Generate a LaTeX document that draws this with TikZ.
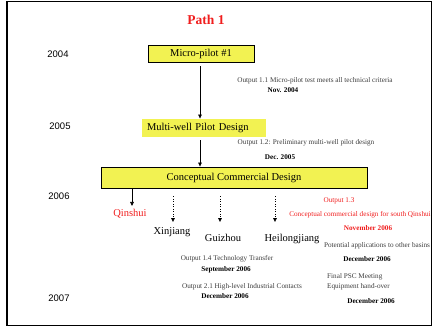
\documentclass[tikz,border=0pt]{standalone}
\usepackage{fontspec}
\setmainfont{Liberation Serif}
\newfontfamily\yearfont{Liberation Sans}
\usepackage{xcolor}
\usetikzlibrary{positioning,arrows.meta}

\definecolor{boxyellow}{RGB}{242,242,82}
\definecolor{pathred}{RGB}{240,30,30}
\definecolor{outgray}{RGB}{60,60,60}

\begin{document}
\begin{tikzpicture}[x=1pt, y=-1pt, >={Triangle[length=4pt,width=3.6pt]},
    phase/.style={fill=boxyellow, draw=black, line width=0.9pt, inner sep=0pt, font=\fontsize{10.5}{12}\selectfont},
    year/.style={font=\yearfont\fontsize{9.5}{11}\selectfont},
    basin/.style={font=\fontsize{10.5}{12}\selectfont},
    outtext/.style={font=\fontsize{7.2}{8}\selectfont, text=outgray, inner sep=0pt},
    outdate/.style={font=\bfseries\fontsize{7.2}{8}\selectfont, inner sep=0pt}]

    \useasboundingbox (0,0) rectangle (435,327);
    \draw[line width=1.6pt] (7,1.5) rectangle (431.5,325.3);
    \draw[line width=2.6pt] (7,1.5) -- (7,325.3);

    % title and years
    \node[text=pathred, font=\bfseries\fontsize{13.5}{15}\selectfont] (title) at (206,20) {Path 1};
    \node[year] (y2004) at (58,54) {2004};
    \node[year] (y2005) at (60,126) {2005};
    \node[year] (y2006) at (59,196) {2006};
    \node[year] (y2007) at (59,298) {2007};

    % phases
    \node[phase, minimum width=106pt, minimum height=17pt] (micro) at (201,53.5) {Micro-pilot \#1};
    \node[phase, draw=none, minimum height=18pt, text width=114pt, inner xsep=5pt, align=left] (multi) at (204,128) {Multi-well Pilot Design};
    \node[phase, minimum width=266pt, minimum height=21pt] (concept) at (234,177.5) {Conceptual Commercial Design};

    \draw[->, line width=0.6pt, shorten <=4pt] (micro.south -| 200,0) -- (multi.north -| 200,0);
    \draw[->, line width=0.6pt, shorten <=3pt] (multi.south -| 200,0) -- (concept.north -| 200,0);

    % basins
    \node[basin, text=pathred] (qinshui) at (130,214) {Qinshui};
    \node[basin] (xinjiang) at (172,232) {Xinjiang};
    \node[basin] (guizhou) at (223,238) {Guizhou};
    \node[basin] (heilong) at (292,239) {Heilongjiang};

    \draw[->, line width=0.6pt] (concept.south -| 132,0) -- (qinshui.north -| 132,0);

    \coordinate (xj tip) at (173,222);
    \coordinate (gz tip) at (220,222);
    \coordinate (hl tip) at (275,222);
    \foreach \tip in {xj tip, gz tip, hl tip}
        \draw[->, line width=0.4pt, dash pattern=on 1pt off 1.5pt, shorten <=8pt] (concept.south -| \tip) -- (\tip);

    % outputs
    \node[outtext] (out11) at (315,81) {Output 1.1 Micro-pilot test meets all technical criteria};
    \node[outdate] (nov04) at (283,90) {Nov. 2004};
    \node[outtext] (out12) at (306,143) {Output 1.2: Preliminary multi-well pilot design};
    \node[outdate] (dec05) at (280,157) {Dec. 2005};

    \node[outtext, text=pathred] (out13) at (339,201) {Output 1.3};
    \node[outtext, text=pathred] (out13b) at (360,215) {Conceptual commercial design for south Qinshui};
    \node[outdate, text=pathred] (nov06) at (368,228) {November 2006};
    \node[outtext] (potential) at (377,246) {Potential applications to other basins};
    \node[outdate] (dec06a) at (367,259) {December 2006};

    \node[outtext] (out14) at (227,259) {Output 1.4 Technology Transfer};
    \node[outdate] (sep06) at (226,270) {September 2006};
    \node[outtext] (out21) at (242,287) {Output 2.1 High-level Industrial Contacts};
    \node[outdate] (dec06b) at (225,296) {December 2006};

    \node[outtext, anchor=west] (psc) at (327,277) {Final PSC Meeting};
    \node[outtext, anchor=west] (handover) at (327,287) {Equipment hand-over};
    \node[outdate] (dec06c) at (371,301) {December 2006};

\end{tikzpicture}
\end{document}
